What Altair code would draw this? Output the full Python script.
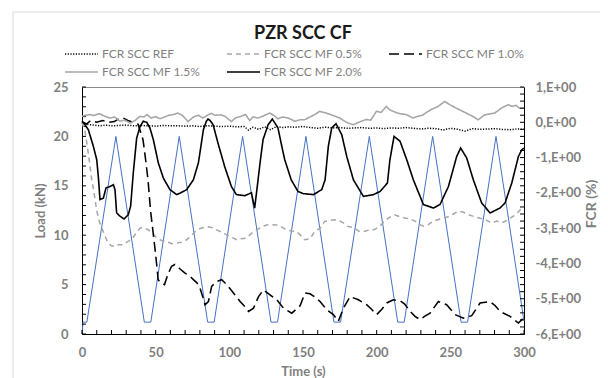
import altair as alt
import pandas as pd

# ---------------- data ----------------
series_names = ["FCR SCC REF", "FCR SCC MF 0.5%", "FCR SCC MF 1.0%", "FCR SCC MF 1.5%", "FCR SCC MF 2.0%"]

# applied load (kN), primary axis
load_t = [0, 0.7, 3.3, 23, 42.3, 46.7, 66, 85.3, 89.7, 109, 128.3, 132.7, 152, 171, 175.5,
          195, 214.3, 218.7, 238, 257.3, 261.7, 281, 300]
load_kn = [0, 1.2, 1.2, 20, 1.2, 1.2, 20, 1.2, 1.2, 20, 1.2, 1.2, 20, 1.2, 1.2,
           20, 1.2, 1.2, 20, 1.2, 1.2, 20, 1.3]

ref_t = [0, 4, 8, 12, 16, 20, 25, 30, 35, 40, 45, 50, 55, 60, 65, 70, 75, 80, 85, 90, 95, 100,
         105, 110, 113, 116, 120, 124, 128, 132, 136, 140, 145, 150, 155, 160, 165, 170, 175,
         180, 185, 190, 195, 200, 205, 210, 215, 220, 225, 230, 235, 240, 245, 250, 255, 260,
         265, 270, 275, 280, 285, 290, 295, 300]
ref_fcr = [-0.02, -0.06, -0.08, -0.1, -0.08, -0.1, -0.09, -0.08, -0.1, -0.09, -0.1, -0.11, -0.09,
           -0.1, -0.1, -0.11, -0.1, -0.12, -0.1, -0.11, -0.12, -0.11, -0.13, -0.12, -0.22, -0.14,
           -0.2, -0.13, -0.21, -0.12, -0.15, -0.13, -0.14, -0.12, -0.15, -0.17, -0.14, -0.16,
           -0.15, -0.17, -0.16, -0.15, -0.17, -0.16, -0.18, -0.16, -0.17, -0.15, -0.17, -0.19,
           -0.17, -0.18, -0.22, -0.17, -0.2, -0.25, -0.18, -0.2, -0.19, -0.18, -0.2, -0.21,
           -0.19, -0.2]

mf05_t = [0, 2, 3.6, 5, 6.6, 8, 10, 12, 14.3, 17.6, 20, 22.4, 25, 28, 31, 33.7, 36.5, 39.4, 42,
          45, 48, 50.6, 54, 57.4, 61, 64.2, 67.5, 71, 74.5, 77.8, 81, 84.7, 88, 91.4, 95, 98.2,
          101.5, 105, 108, 111.8, 115, 118.6, 122, 125.4, 129, 132.2, 135.5, 139, 142.5, 145.7,
          148, 151, 154.8, 158, 161.6, 164.7, 168.4, 171.5, 175, 177.4, 180.5, 184, 188, 191.8,
          195, 198.6, 202, 205.4, 208.5, 212.2, 215.9, 219, 222.7, 226, 229.4, 232, 235, 238.5,
          241.5, 245, 248.5, 252, 255.5, 259, 262.5, 266, 270, 274, 278, 281.5, 285, 288.5,
          292.5, 296, 298.5, 300]
mf05_fcr = [0.0, -0.25, -0.68, -1.1, -1.63, -1.95, -2.5, -2.85, -3.09, -3.42, -3.5, -3.52, -3.47,
            -3.47, -3.38, -3.33, -3.15, -3.0, -2.98, -3.05, -3.15, -3.28, -3.35, -3.38, -3.44,
            -3.42, -3.4, -3.33, -3.2, -3.05, -3.0, -2.96, -2.98, -3.05, -3.12, -3.19, -3.26,
            -3.33, -3.3, -3.28, -3.15, -3.05, -2.96, -2.91, -2.9, -2.91, -2.97, -3.05, -3.08,
            -3.1, -3.19, -3.33, -3.3, -3.09, -3.0, -2.81, -2.78, -2.76, -2.8, -2.85, -2.95,
            -2.98, -3.09, -3.09, -3.05, -3.04, -2.95, -2.8, -2.7, -2.62, -2.68, -2.71, -2.74,
            -2.8, -2.9, -2.95, -2.9, -2.8, -2.76, -2.72, -2.68, -2.6, -2.52, -2.55, -2.62,
            -2.67, -2.72, -2.76, -2.86, -2.8, -2.85, -2.78, -2.67, -2.55, -2.43, -2.38]

mf10_t = [0, 3, 6, 10, 14, 18, 22, 25, 28, 31, 35, 38, 41.4, 43, 44.8, 46.5, 48.2, 50, 51.7,
          53.4, 56, 58.4, 60.8, 63, 66.4, 69.7, 73, 75.6, 78, 80.1, 82, 83.5, 85.8, 88, 91.4,
          94.8, 98.2, 102.8, 107.3, 110, 113, 116.4, 119.8, 123.2, 127.6, 132.2, 136.8, 142.4,
          148, 151.4, 154.8, 158, 161.6, 166, 170.6, 174, 177.4, 182, 187.6, 193.2, 196.5, 200,
          203.5, 206.8, 211.3, 215.9, 219, 222.7, 226, 229.4, 232.5, 236.2, 241.9, 247.5, 253.2,
          258.9, 264.5, 270.2, 277, 280.5, 283.7, 290.5, 293.5, 296.2, 299.6]
mf10_fcr = [0.02, -0.05, 0.05, 0.0, 0.05, 0.0, 0.02, 0.1, 0.12, 0.05, 0.0, -0.05, -0.49, -1.0,
            -1.63, -2.5, -3.1, -3.75, -4.46, -4.55, -4.6, -4.3, -4.08, -4.03, -4.15, -4.27,
            -4.35, -4.46, -4.55, -4.7, -4.95, -5.17, -5.08, -4.65, -4.51, -4.46, -4.6, -4.84,
            -5.08, -5.2, -5.36, -5.27, -4.94, -4.75, -4.89, -5.03, -5.27, -5.41, -5.2, -4.84,
            -4.86, -4.95, -5.08, -5.31, -5.45, -5.64, -5.27, -4.94, -5.03, -5.17, -5.3, -5.45,
            -5.3, -5.12, -5.03, -5.06, -5.15, -5.36, -5.5, -5.59, -5.5, -5.41, -5.08, -5.17,
            -5.45, -5.55, -5.48, -5.12, -5.08, -5.2, -5.36, -5.5, -5.6, -5.69, -5.55]

mf15_t = [0, 3, 5.4, 8, 10, 12, 15, 19, 22, 25.8, 29, 32.6, 36, 39.4, 42, 44, 47, 50, 53, 56, 59,
          62, 65, 68, 72, 75.6, 79, 82, 85.5, 88, 90, 94.6, 97, 101.4, 104, 108, 111, 113.8,
          116, 119.5, 123, 127.4, 130, 133, 136, 140, 144.4, 148, 151, 155.6, 158, 161.3, 165.8,
          170, 174.9, 177.5, 180.5, 184, 189.6, 193, 196, 199.8, 203, 206.6, 209, 211.1, 215,
          220, 224.7, 228, 231, 234.9, 238, 241.7, 244, 246.2, 249.6, 254.1, 258, 263.2, 266,
          268.8, 273.3, 277, 280.1, 284.6, 289.2, 292, 294.5, 297, 300]
mf15_fcr = [0.17, 0.2, 0.22, 0.19, 0.22, 0.24, 0.18, 0.12, 0.15, 0.03, 0.06, -0.02, 0.05, 0.17,
            0.15, 0.22, 0.12, 0.16, 0.1, 0.15, 0.2, 0.22, 0.26, 0.2, 0.02, 0.15, 0.2, 0.12,
            0.21, 0.25, 0.2, 0.21, 0.17, 0.02, 0.12, 0.17, 0.22, 0.05, 0.15, 0.12, 0.18, 0.26,
            0.2, 0.1, 0.15, 0.12, 0.03, 0.07, 0.07, 0.17, 0.22, 0.31, 0.26, 0.2, 0.12, 0.05,
            -0.02, -0.07, 0.03, 0.08, 0.06, 0.31, 0.28, 0.45, 0.35, 0.31, 0.25, 0.22, 0.12,
            0.17, 0.2, 0.31, 0.38, 0.45, 0.52, 0.59, 0.5, 0.4, 0.32, 0.21, 0.15, 0.07, 0.21,
            0.24, 0.26, 0.4, 0.5, 0.45, 0.48, 0.4, 0.4]

mf20_t = [0, 2, 4.3, 7.7, 10, 11.2, 12.2, 14.5, 16.3, 19, 21.3, 22.4, 23.5, 25.8, 28.5, 31.4, 33,
          34.8, 37.1, 39.4, 41.6, 43.9, 46.1, 48.4, 51.8, 55.2, 59.7, 62, 64.2, 67, 71, 75.6, 79,
          81, 82.4, 84.4, 85.5, 87, 89, 92.3, 96.8, 101.4, 104.8, 110.4, 115, 117.2, 119.5, 121,
          122.9, 126.3, 129.2, 133, 135.6, 137.6, 142, 146.6, 150, 157, 162.7, 165, 167.2, 169.5,
          172.4, 176.3, 179.7, 184.2, 191, 197.8, 202.3, 207.3, 209, 211.8, 215.9, 220.4, 224.9,
          231.7, 238.5, 243, 248.7, 254.3, 257, 261.1, 265.6, 271.3, 277, 283.7, 287.1, 291.7,
          296.2, 298.5, 300]
mf20_fcr = [0.03, -0.07, -0.21, -0.68, -1.06, -1.6, -2.19, -2.15, -1.86, -1.82, -1.77, -1.91,
            -2.57, -2.66, -2.74, -2.62, -2.38, -1.44, -0.45, -0.12, 0.03, 0.0, -0.16, -0.49,
            -1.15, -1.58, -1.91, -1.98, -2.05, -2.0, -1.91, -1.63, -1.15, -0.6, -0.21, 0.03,
            0.09, 0.05, -0.07, -0.59, -1.25, -1.82, -2.05, -2.08, -2.0, -2.43, -1.63, -1.1,
            -0.49, -0.07, 0.09, -0.16, -0.68, -1.06, -1.63, -1.96, -2.02, -2.05, -1.91, -1.63,
            -0.68, -0.16, -0.04, -0.35, -0.97, -1.63, -2.1, -2.05, -1.96, -1.72, -1.06, -0.4,
            -0.54, -1.06, -1.63, -2.33, -2.43, -2.33, -1.82, -0.97, -0.73, -1.01, -1.63, -2.29,
            -2.57, -2.43, -2.29, -1.72, -0.97, -0.78, -0.73]

time_labels = [0, 50, 100, 150, 200, 250, 300]
load_labels = [0, 5, 10, 15, 20, 25]
fcr_labels = [-6, -5, -4, -3, -2, -1, 0, 1]
time_minor = list(range(0, 301, 10))
load_minor = list(range(0, 26))
fcr_minor = [round(-6 + 0.2 * i, 1) for i in range(36)]

# ---------------- tables ----------------
rows = []
for name, ts, vs in zip(series_names,
                        [ref_t, mf05_t, mf10_t, mf15_t, mf20_t],
                        [ref_fcr, mf05_fcr, mf10_fcr, mf15_fcr, mf20_fcr]):
    if len(ts) != len(vs):
        raise ValueError(f"{name}: {len(ts)} vs {len(vs)}")
    rows += [{"t": a, "fcr": b, "series": name} for a, b in zip(ts, vs)]
fcr_df = pd.DataFrame(rows)
load_df = pd.DataFrame({"t": load_t, "load": load_kn})

W, H = 442, 247
FONT = "Lato"
GRAY = "#7f7f7f"

x_scale = alt.Scale(domain=[0, 300], nice=False, zero=False)
load_scale = alt.Scale(domain=[0, 25], nice=False)
fcr_scale = alt.Scale(domain=[-6, 1], nice=False, zero=False)

axis_style = dict(labelFont=FONT, labelFontSize=13, labelFontWeight="bold", labelColor=GRAY,
                  titleFont=FONT, titleFontWeight="bold", titleColor=GRAY, grid=False,
                  ticks=False, labelFlush=False, labelOverlap=False,
                  domainColor="#000000", domainWidth=1)

x_axis = alt.Axis(values=time_labels, title="Time (s)", labelPadding=12,
                  titleFontSize=13, titleX=W / 2, titleY=37, titleBaseline="middle",
                  **axis_style)
load_axis = alt.Axis(orient="left", values=load_labels, title="Load (kN)",
                     labelPadding=14, titleFontSize=13, titleAngle=270,
                     titleX=-42, titleY=H / 2, titleBaseline="middle", **axis_style)
fcr_axis = alt.Axis(orient="right", values=fcr_labels, title="FCR (%)",
                    labelExpr="(datum.value < 0 ? '-' : '') + abs(datum.value) + ',E+00'",
                    labelPadding=11, titleFontSize=14, titleAngle=270,
                    titleX=67, titleY=H / 2 - 7, titleBaseline="middle", **axis_style)

x_enc = alt.X("t:Q", scale=x_scale, axis=x_axis)
load_enc = alt.Y("load:Q", scale=load_scale, axis=load_axis)
fcr_enc = alt.Y("fcr:Q", scale=fcr_scale, axis=fcr_axis)

# light frame around the whole chart area (decoration)
frame = alt.Chart(pd.DataFrame({"k": [0]})).mark_rect(
    filled=False, stroke="#d9d9d9", strokeWidth=1
).encode(x=alt.value(-69), x2=alt.value(600), y=alt.value(-75), y2=alt.value(330))

load_line = alt.Chart(load_df).mark_line(color="#4472c4", strokeWidth=1).encode(
    x=x_enc, y=load_enc)

left_ticks = alt.Chart(pd.DataFrame({"load": load_minor})).mark_rule(
    color="#000000", strokeWidth=1).encode(y=load_enc, x=alt.value(0), x2=alt.value(4))

bottom_ticks = alt.Chart(pd.DataFrame({"t": time_minor})).mark_rule(
    color="#000000", strokeWidth=1).encode(x=x_enc, y=alt.value(H), y2=alt.value(H - 4))

left_layer = alt.layer(frame, load_line, left_ticks, bottom_ticks)

legend = alt.Legend(title=None, orient="none", legendX=-18, legendY=-41, columns=3,
                    direction="horizontal", clipHeight=16,
                    symbolType="stroke", symbolSize=1089, columnPadding=25, rowPadding=2,
                    labelFont=FONT, labelFontSize=12, labelColor=GRAY, labelOffset=3,
                    symbolStrokeWidth=1.5)

fcr_lines = alt.Chart(fcr_df).mark_line().encode(
    x=x_enc,
    y=fcr_enc,
    color=alt.Color("series:N", sort=series_names,
                    scale=alt.Scale(domain=series_names,
                                    range=["#000000", "#a6a6a6", "#000000", "#a6a6a6", "#000000"]),
                    legend=legend),
    strokeDash=alt.StrokeDash("series:N", sort=series_names,
                              scale=alt.Scale(domain=series_names,
                                              range=[[1.2, 1.5], [5, 4], [10, 5], [1, 0], [1, 0]]),
                              legend=legend),
    strokeWidth=alt.StrokeWidth("series:N", sort=series_names,
                                scale=alt.Scale(domain=series_names,
                                                range=[1.5, 1.6, 2, 1.6, 2]),
                                legend=legend),
)

right_ticks = alt.Chart(pd.DataFrame({"fcr": fcr_minor})).mark_rule(
    color="#000000", strokeWidth=1).encode(y=fcr_enc, x=alt.value(W), x2=alt.value(W - 4))

right_layer = alt.layer(fcr_lines, right_ticks)

chart = alt.layer(left_layer, right_layer).resolve_scale(
    y="independent", color="independent", strokeDash="independent", strokeWidth="independent"
).properties(
    width=W, height=H,
    title=alt.TitleParams("PZR SCC CF", font=FONT, fontSize=18, fontWeight="bold",
                          color="#1a1a1a", anchor="middle", offset=0, dy=31),
    autosize=alt.AutoSizeParams(type="none"),
    padding={"left": 74, "top": 79, "right": 76, "bottom": 44},
).configure_view(stroke="#8c8c8c", strokeWidth=1)

chart.save("out.html", embed_options={"renderer": "svg", "actions": False})
